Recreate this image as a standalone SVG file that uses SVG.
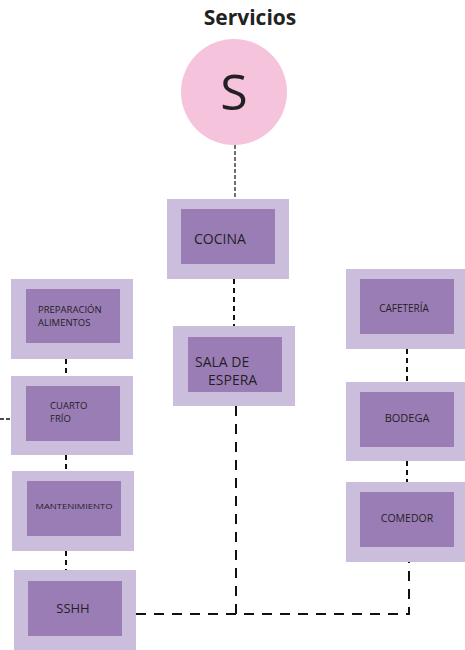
<svg xmlns="http://www.w3.org/2000/svg" width="465" height="650" viewBox="0 0 465 650">
<style>
.outer{fill:#cbbddc}
.inner{fill:#9b7db5}
.t{font-family:"Open Sans","Liberation Sans",sans-serif;fill:#231f26}
.c{stroke:#111;fill:none}
.s{stroke-width:2;stroke-dasharray:5 4}
.l{stroke-width:2;stroke-dasharray:10 8}
</style>
<rect width="465" height="650" fill="#ffffff"/>
<text x="250" y="25" text-anchor="middle" font-family="'Open Sans','Liberation Sans',sans-serif" font-weight="bold" font-size="21" fill="#222">Servicios</text>
<g id="connectors">
<line class="c" x1="235" y1="145" x2="235" y2="199" stroke-width="1.2" stroke-dasharray="4 2"/>
<line class="c s" x1="234" y1="279" x2="234" y2="326"/>
<path class="c l" d="M236 406 V614 M136 614 H409 V562"/>
<line class="c s" x1="407" y1="349" x2="407" y2="382"/>
<line class="c s" x1="407" y1="461" x2="407" y2="482"/>
<line class="c s" x1="66" y1="359" x2="66" y2="376"/>
<line class="c s" x1="66" y1="455" x2="66" y2="471"/>
<line class="c s" x1="66" y1="551" x2="66" y2="570"/>
<line class="c" x1="0" y1="419" x2="11" y2="419" stroke-width="1.5" stroke-dasharray="4 2"/>
</g>
<g id="servicios">
<circle cx="234" cy="92" r="53" fill="#f5c3db"/>
<text class="t" x="234" y="110" text-anchor="middle" font-size="50" fill="#1a1a1a">S</text>
</g>
<g id="cocina">
<rect class="outer" x="167" y="199" width="122" height="80"/>
<rect class="inner" x="181" y="209" width="94" height="55"/>
<text class="t" x="194" y="244" font-size="14">COCINA</text>
</g>
<g id="sala">
<rect class="outer" x="173" y="326" width="122" height="80"/>
<rect class="inner" x="188" y="337" width="94" height="55"/>
<text class="t" x="195" y="367" font-size="14">SALA DE</text>
<text class="t" x="208" y="385" font-size="14">ESPERA</text>
</g>
<g id="preparacion">
<rect class="outer" x="11" y="279" width="122" height="80"/>
<rect class="inner" x="26" y="289" width="94" height="54"/>
<text class="t" x="38" y="313" font-size="9.5">PREPARACIÓN</text>
<text class="t" x="38" y="326" font-size="9.5">ALIMENTOS</text>
</g>
<g id="cuarto">
<rect class="outer" x="11" y="376" width="122" height="79"/>
<rect class="inner" x="26" y="386" width="94" height="55"/>
<text class="t" x="50" y="409" font-size="9.5">CUARTO</text>
<text class="t" x="50" y="422" font-size="9.5">FRÍO</text>
</g>
<g id="mantenimiento">
<rect class="outer" x="12" y="471" width="122" height="80"/>
<rect class="inner" x="27" y="481" width="94" height="55"/>
<text class="t" x="74" y="509" font-size="8" text-anchor="middle" textLength="77" lengthAdjust="spacingAndGlyphs">MANTENIMIENTO</text>
</g>
<g id="sshh">
<rect class="outer" x="14" y="570" width="122" height="80"/>
<rect class="inner" x="28" y="581" width="94" height="55"/>
<text class="t" x="73" y="613" font-size="13" text-anchor="middle">SSHH</text>
</g>
<g id="cafeteria">
<rect class="outer" x="346" y="269" width="119" height="80"/>
<rect class="inner" x="360" y="279" width="94" height="55"/>
<text class="t" x="404" y="312" font-size="10" text-anchor="middle">CAFETERÍA</text>
</g>
<g id="bodega">
<rect class="outer" x="346" y="382" width="119" height="79"/>
<rect class="inner" x="360" y="392" width="94" height="55"/>
<text class="t" x="407" y="422" font-size="11" text-anchor="middle">BODEGA</text>
</g>
<g id="comedor">
<rect class="outer" x="346" y="482" width="119" height="80"/>
<rect class="inner" x="360" y="492" width="94" height="55"/>
<text class="t" x="407" y="522" font-size="10.5" text-anchor="middle">COMEDOR</text>
</g>
</svg>
